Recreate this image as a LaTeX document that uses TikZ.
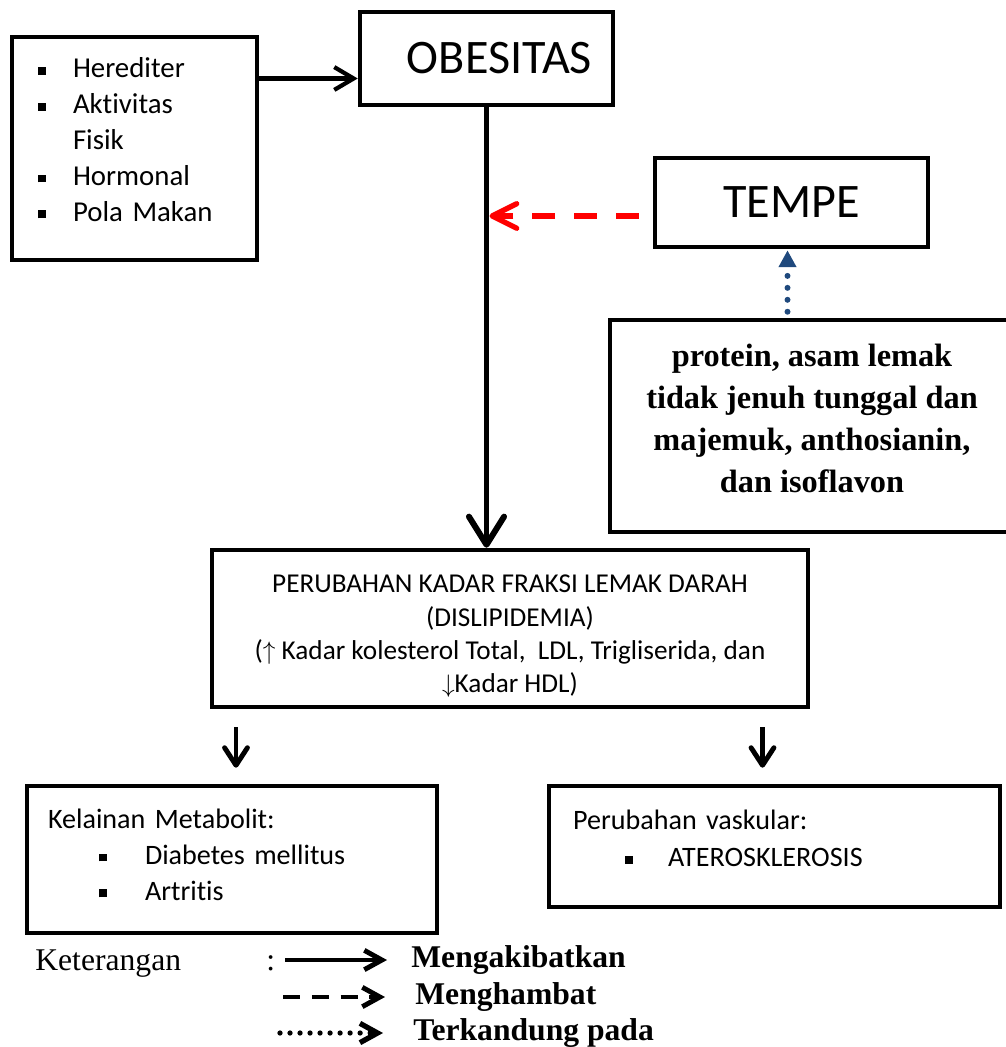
\documentclass[tikz,border=0pt]{standalone}
\usepackage{fontspec}
\setmainfont{Carlito}[Ligatures=NoCommon]
\newfontfamily\tnr{Liberation Serif}
\usetikzlibrary{arrows.meta,calc}
\definecolor{dotblue}{RGB}{31,73,125}
\newcommand{\blt}{\rule[0.1em]{4.5pt}{4.5pt}}
\newcommand{\bitem}[3]{\hspace*{#1}\makebox[#2][l]{\blt}#3}
\begin{document}
\begin{tikzpicture}[x=0.02cm, y=-0.02cm,
    every node/.style={inner sep=0pt},
    box/.style={draw, line width=2.6pt, rectangle},
    cause/.style={line width=2.4pt, -{Straight Barb[length=11pt, width=13pt]}},
    mainline/.style={line width=3.4pt, -{Straight Barb[length=16pt, width=20pt, round]}},
    inhib/.style={red, line width=3pt, dash pattern=on 13pt off 10.8pt,
                  -{Straight Barb[length=14pt, width=14pt, round]}},
    contain/.style={dotblue, line width=3.4pt, line cap=round, dash pattern=on 0pt off 6.8pt,
                    -{Triangle[length=9.6pt, width=9.6pt]}},
    down/.style={line width=2.8pt, -{Straight Barb[length=10pt, width=13pt, round]}},
    keyline/.style={line width=2.8pt, -{Straight Barb[length=10pt, width=11pt]}},
    keytext/.style={anchor=west, font=\tnr\bfseries\fontsize{18}{20}\selectfont}
  ]
  \useasboundingbox (0,0) rectangle (1005,1047);

  % boxes
  \node[box, minimum width=4.9cm, minimum height=4.46cm, text width=3.86cm, inner xsep=0.52cm,
        align=left, font=\fontsize{16.4}{20.4}\selectfont] (hered) at (134.5,148.5)
    {\bitem{0pt}{0.7cm}{Herediter}\\
     \bitem{0pt}{0.7cm}{Aktivitas}\\
     \hspace*{0.7cm}Fisik\\
     \bitem{0pt}{0.7cm}{Hormonal}\\
     \bitem{0pt}{0.7cm}{Pola Makan}\\[-10.2pt]\mbox{}};
  \node[box, minimum width=5.06cm, minimum height=1.86cm,
        font=\fontsize{27.4}{30}\selectfont] (obes) at (486.5,58.5) {\hspace*{0.52cm}OBESITAS};
  \node[box, minimum width=5.46cm, minimum height=1.78cm,
        font=\fontsize{27.4}{30}\selectfont] (tempe) at (791.5,202.5) {TEMPE};
  \node[box, minimum width=8.08cm, minimum height=4.24cm, align=center,
        font=\tnr\bfseries\fontsize{18.4}{23.8}\selectfont] (prot) at (812,426)
    {protein, asam lemak\\ tidak jenuh tunggal dan\\ majemuk, anthosianin,\\ dan isoflavon\\[-14.8pt]\mbox{}};
  \node[box, minimum width=11.92cm, minimum height=3.14cm, align=center,
        font=\fontsize{15.5}{18.9}\selectfont] (perub) at (510,628.5)
    {\mbox{}\\
     PERUBAHAN KADAR FRAKSI LEMAK DARAH\\
     (DISLIPIDEMIA)\\
     ($\uparrow$ Kadar kolesterol Total,\ \ LDL, Trigliserida, dan\\
     $\downarrow$Kadar HDL)};
  \node[box, minimum width=8.2cm, minimum height=2.94cm, text width=7.36cm, inner xsep=0.42cm,
        align=left, font=\fontsize{16}{20.4}\selectfont] (kel) at (232,859.5)
    {Kelainan Metabolit:\\
     \bitem{1.02cm}{0.92cm}{Diabetes mellitus}\\
     \bitem{1.02cm}{0.92cm}{Artritis}\\[-14.7pt]\mbox{}};
  \node[box, minimum width=9.02cm, minimum height=2.42cm, text width=8.06cm, inner xsep=0.48cm,
        align=left, font=\fontsize{16}{21}\selectfont] (vask) at (774.5,846.5)
    {Perubahan vaskular:\\
     \bitem{1.04cm}{0.86cm}{ATEROSKLEROSIS}\\[-12pt]\mbox{}};

  % connectors
  \draw[cause] ($(hered.east |- obes.west)+(0,20)$) -- ($(obes.west)+(0,20)$);
  \draw[mainline] (obes.south) -- (obes.south |- perub.north);
  \draw[inhib] ($(tempe.west)+(-14,13.5)$) -- ($(obes.south |- tempe.west)+(3,13.5)$);
  \draw[contain] ($(prot.north -| tempe.south)+(-4,-6)$) -- ($(tempe.south)+(-4,1)$);
  \draw[down] ($(perub.south -| kel.north)+(4,18)$) -- ($(kel.north)+(4,-16)$);
  \draw[down] ($(perub.south -| vask.north)+(-12,18)$) -- ($(vask.north)+(-12,-16)$);

  % legend
  \node[anchor=base west, font=\tnr\fontsize{18}{20}\selectfont] (ket) at (35,970) {Keterangan};
  \node[anchor=base west, font=\tnr\fontsize{18}{20}\selectfont] (colon) at (266,970) {:};
  \node[keytext] (mkb) at (411,960) {Mengakibatkan};
  \node[keytext] (mhb) at (415,997) {Menghambat};
  \node[keytext] (tkp) at (413,1033) {Terkandung pada};
  \coordinate (s1) at (285,960);
  \coordinate (s2) at (283,997);
  \coordinate (s3) at (280,1033);
  \draw[keyline] (s1) -- ($(mkb.west)+(-24,0)$);
  \draw[keyline, dash pattern=on 9.6pt off 6.8pt] (s2) -- ($(mhb.west)+(-30,0)$);
  \draw[keyline, line width=3pt, line cap=round, dash pattern=on 0pt off 5.7pt] (s3) -- ($(tkp.west)+(-30,0)$);
\end{tikzpicture}
\end{document}
